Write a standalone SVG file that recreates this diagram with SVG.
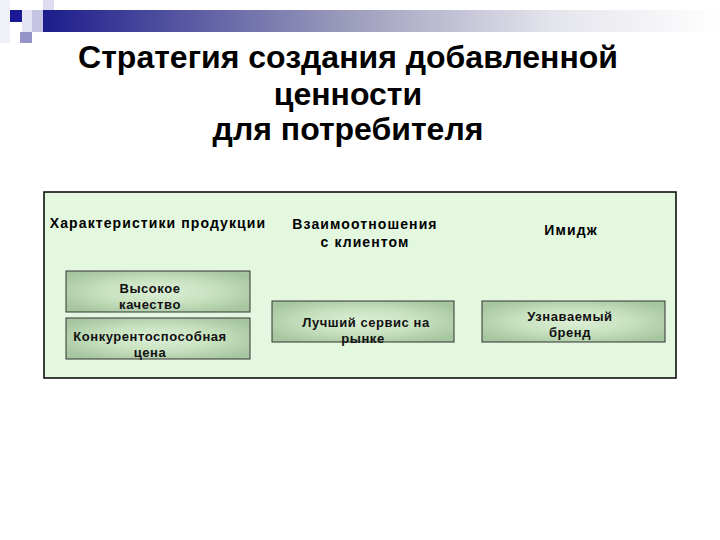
<svg xmlns="http://www.w3.org/2000/svg" width="720" height="540" viewBox="0 0 720 540">
<defs>
<linearGradient id="bar" x1="0" y1="0" x2="1" y2="0">
<stop offset="0" stop-color="#1c1c8c"/>
<stop offset="0.45" stop-color="#9c9cbc"/>
<stop offset="0.75" stop-color="#e4e4ec"/>
<stop offset="1" stop-color="#ffffff"/>
</linearGradient>
<radialGradient id="cell" cx="0.5" cy="0.5" r="0.6">
<stop offset="0" stop-color="#dcefd6"/>
<stop offset="0.5" stop-color="#c8e2c0"/>
<stop offset="1" stop-color="#a6c6a0"/>
</radialGradient>
<style>
.title{font-family:"Liberation Sans",Arial,sans-serif;font-weight:bold;font-size:32px;fill:#000;text-anchor:middle}
.head{font-family:"Liberation Sans",Arial,sans-serif;font-weight:bold;font-size:14px;letter-spacing:1.1px;fill:#000;text-anchor:middle}
.lbl{font-family:"Liberation Sans",Arial,sans-serif;font-weight:bold;font-size:13px;letter-spacing:0.55px;fill:#111;text-anchor:middle}
.cell{fill:url(#cell);stroke:#333;stroke-width:1}
</style>
</defs>
<rect width="720" height="540" fill="#ffffff"/>
<g id="decor">
<rect x="0" y="0" width="10" height="43" fill="#f0f0f8"/>
<rect x="43" y="0" width="11" height="10" fill="#dcdcee"/>
<rect x="22" y="10" width="21" height="22" fill="#e4e4f2"/>
<rect x="32" y="10" width="11" height="22" fill="#c4c4e2"/>
<rect x="10" y="10" width="12" height="12" fill="#1a1a96"/>
<rect x="20" y="32" width="12" height="11" fill="#9494c8"/>
<rect x="43" y="10" width="677" height="22" fill="url(#bar)"/>
</g>
<g id="title">
<text class="title" x="348" y="68">Стратегия создания добавленной</text>
<text class="title" x="348" y="105">ценности</text>
<text class="title" x="348" y="140">для потребителя</text>
</g>
<g id="frame">
<rect x="44" y="192" width="632" height="186" fill="#e4f8e0" stroke="#000" stroke-width="1.5"/>
</g>
<g id="head-product">
<text class="head" x="158" y="228">Характеристики продукции</text>
</g>
<g id="head-client">
<text class="head" x="365" y="229">Взаимоотношения</text>
<text class="head" x="365" y="247">с клиентом</text>
</g>
<g id="head-image">
<text class="head" x="571" y="235">Имидж</text>
</g>
<g id="node-quality">
<rect class="cell" x="66" y="271" width="184" height="41"/>
<text class="lbl" x="150" y="293">Высокое</text>
<text class="lbl" x="150" y="309">качество</text>
</g>
<g id="node-price">
<rect class="cell" x="66" y="318" width="184" height="41"/>
<text class="lbl" x="150" y="341">Конкурентоспособная</text>
<text class="lbl" x="150" y="357">цена</text>
</g>
<g id="node-service">
<rect class="cell" x="272" y="301" width="182" height="41"/>
<text class="lbl" x="366" y="327">Лучший сервис на</text>
<text class="lbl" x="363" y="343">рынке</text>
</g>
<g id="node-brand">
<rect class="cell" x="482" y="301" width="183" height="41"/>
<text class="lbl" x="570" y="321">Узнаваемый</text>
<text class="lbl" x="570" y="337">бренд</text>
</g>
<g id="connectors"></g>
</svg>
